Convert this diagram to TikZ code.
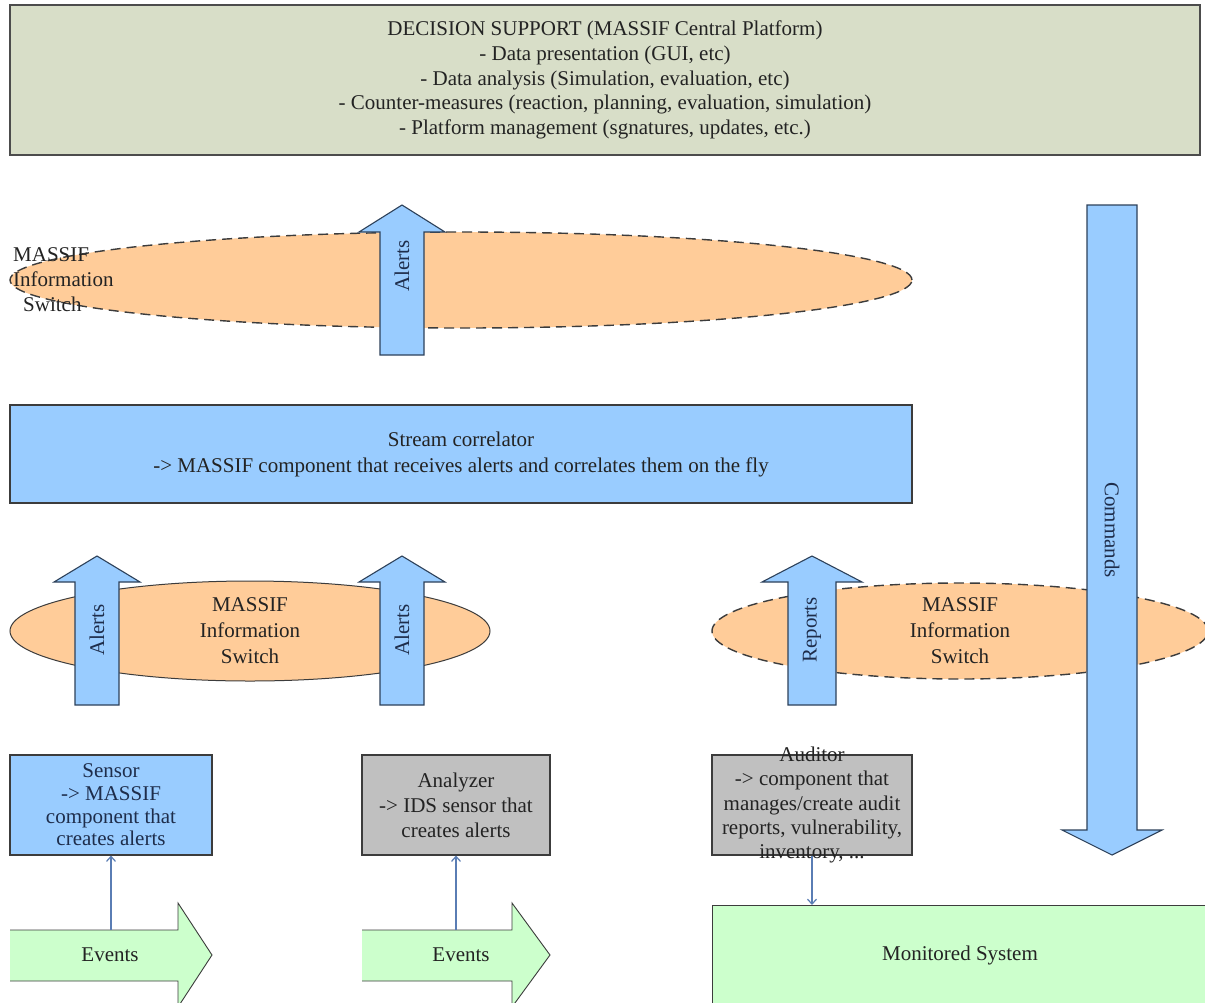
\documentclass[tikz,border=0pt]{standalone}
\usepackage{fontspec}
\setmainfont{Liberation Serif}
\newfontfamily\diagfont{Liberation Serif}
\usetikzlibrary{shapes.geometric,arrows.meta}
\definecolor{topfill}{RGB}{216,222,200}
\definecolor{bluefill}{RGB}{153,204,255}
\definecolor{orangefill}{RGB}{255,204,153}
\definecolor{grayfill}{RGB}{192,192,192}
\definecolor{greenfill}{RGB}{204,255,204}
\definecolor{edge}{RGB}{60,60,60}
\definecolor{arrowedge}{RGB}{45,65,90}
\definecolor{linkcol}{RGB}{90,125,180}
\definecolor{navytext}{RGB}{30,45,75}
\definecolor{darktext}{RGB}{35,35,35}
\newcommand\blockup[7]{% xc, ytip, ybase, ybot, shaft half, head half, name
  \path[blockarrow] ({#1-#5},{#4}) -- ({#1-#5},{#3}) -- ({#1-#6},{#3}) -- ({#1},{#2})
    -- ({#1+#6},{#3}) -- ({#1+#5},{#3}) -- ({#1+#5},{#4}) -- cycle;
  \coordinate (#7) at ({#1},{#2});}
\newcommand\blockdown[7]{% xc, ytop, ybase, ytip, shaft half, head half, name
  \path[blockarrow] ({#1-#5},{#2}) -- ({#1-#5},{#3}) -- ({#1-#6},{#3}) -- ({#1},{#4})
    -- ({#1+#6},{#3}) -- ({#1+#5},{#3}) -- ({#1+#5},{#2}) -- cycle;
  \coordinate (#7) at ({#1},{#4});}
\newcommand\eventarrow[4]{% xleft, xheadbase, xtip, name
  \fill[greenfill] ({#1},930) -- ({#2},930) -- ({#2},903) -- ({#3},955) -- ({#2},1007) -- ({#2},981) -- ({#1},981) -- cycle;
  \draw[draw=edge, line width=0.9pt] ({#1},930) -- ({#2},930) -- ({#2},903) -- ({#3},955) -- ({#2},1007) -- ({#2},981) -- ({#1},981);
  \coordinate (#4) at ({(#1+#2)/2},930);}
\begin{document}
\begin{tikzpicture}[x=1pt,y=-1pt,
  every node/.style={font=\diagfont\fontsize{21}{25}\selectfont, text=darktext},
  box/.style={draw=edge, line width=1.1pt, inner sep=0pt, align=center},
  ellipsebox/.style={ellipse, draw=edge, line width=1pt, fill=orangefill, inner sep=0pt, align=center},
  dashedellipse/.style={ellipsebox, line width=1.4pt, dash pattern=on 10pt off 6pt},
  blockarrow/.style={fill=bluefill, draw=arrowedge, line width=1.1pt, line join=miter},
  arrowlabel/.style={text=navytext, inner sep=0pt},
  link/.style={draw=linkcol, line width=1.2pt, -{Straight Barb[length=5pt,width=9pt]}}
  ]
\useasboundingbox (0,0) rectangle (1205,1002);
\fill[white] (0,0) rectangle (1205,1002);

% top decision support box
\node[box, fill=topfill, draw=black!70, line width=2.2pt, minimum width=1190pt, minimum height=150pt,
      font=\diagfont\fontsize{21}{24.8}\selectfont] (decision) at (605,80)
  {DECISION SUPPORT (MASSIF Central Platform)\\
   - Data presentation (GUI, etc)\\
   - Data analysis (Simulation, evaluation, etc)\\
   - Counter-measures (reaction, planning, evaluation, simulation)\\
   - Platform management (sgnatures, updates, etc.)};

% top information switch
\node[dashedellipse, minimum width=902pt, minimum height=96pt] (topswitch) at (461,280) {};
\node[anchor=west, align=left, inner sep=0pt] (topswitchlabel) at (13,280)
  {MASSIF\\Information\\\hspace*{10pt}Switch};

% stream correlator
\node[box, fill=bluefill, minimum width=902pt, minimum height=98pt, font=\diagfont\fontsize{21}{26}\selectfont] (stream) at (461,454)
  {Stream correlator\\-> MASSIF component that receives alerts and correlates them on the fly};

% top alerts arrow
\blockup{402}{205}{232}{355}{22}{43}{alerttip}
\node[arrowlabel, rotate=90] (alertslabeltop) at (402,266) {Alerts};

% middle switches
\node[ellipsebox, minimum width=480pt, minimum height=100pt, font=\diagfont\fontsize{21}{26}\selectfont] (midswitch) at (250,631)
  {MASSIF\\Information\\Switch};
\node[dashedellipse, minimum width=496pt, minimum height=96pt, font=\diagfont\fontsize{21}{26}\selectfont] (rightswitch) at (960,631)
  {MASSIF\\Information\\Switch};

% middle arrows
\blockup{97}{556}{582}{705}{22}{43}{alertsonetip}
\node[arrowlabel, rotate=90] (alertsone) at (97,630) {Alerts};
\blockup{402}{556}{582}{705}{22}{43}{alertstwotip}
\node[arrowlabel, rotate=90] (alertstwo) at (402,630) {Alerts};
\blockup{812}{556}{582}{705}{24}{50}{reportstip}
\node[arrowlabel, rotate=90] (reports) at (812,630) {Reports};

% commands arrow
\blockdown{1112}{205}{830}{855}{25}{50}{commandstip}
\node[arrowlabel, rotate=-90] (commands) at (1112,530) {Commands};

% bottom components
\node[box, fill=bluefill, minimum width=202pt, minimum height=100pt, text=navytext,
      font=\diagfont\fontsize{21}{22.7}\selectfont] (sensor) at (111,805)
  {Sensor\\-> MASSIF\\component that\\creates alerts};
\node[box, fill=grayfill, minimum width=188pt, minimum height=100pt] (analyzer) at (456,805)
  {Analyzer\\-> IDS sensor that\\creates alerts};
\node[box, fill=grayfill, minimum width=200pt, minimum height=100pt] (auditorbox) at (812,805) {};
\node[align=center, inner sep=0pt, font=\diagfont\fontsize{21}{24.2}\selectfont] (auditor) at (812,805)
  {Auditor\\-> component that\\manages/create audit\\reports, vulnerability,\\inventory, ...};

% events arrows
\eventarrow{10}{178}{212}{eventsone}
\node (eventsonelabel) at (110,955) {Events};
\eventarrow{362}{512}{550}{eventstwo}
\node (eventstwolabel) at (461,955) {Events};

% monitored system
\node[box, fill=greenfill, minimum width=500pt, minimum height=102pt, anchor=north west] (monitored) at (712,905) {};
\node (monitoredlabel) at (960,955) {Monitored System};

% connectors
\draw[link] (eventsone -| sensor.south) -- (sensor.south);
\draw[link] (eventstwo -| analyzer.south) -- (analyzer.south);
\draw[link] (auditorbox.south) -- (monitored.north -| auditorbox.south);
\end{tikzpicture}
\end{document}
